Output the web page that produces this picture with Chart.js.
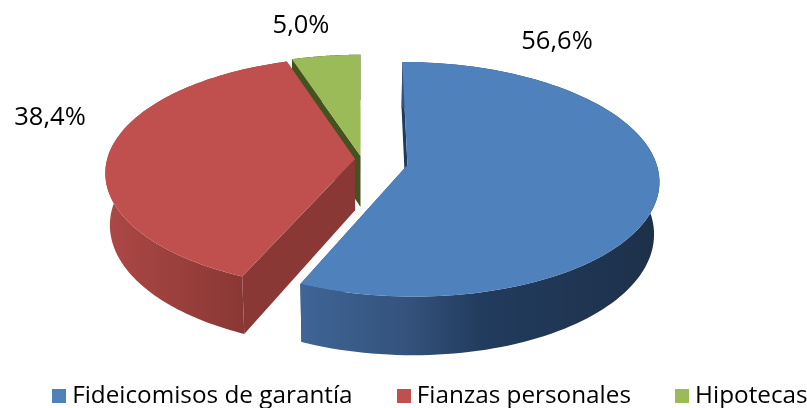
<!DOCTYPE html>
<html>
<head>
<meta charset="utf-8">
<script src="https://cdn.jsdelivr.net/npm/chart.js@4"></script>
<style>
  html, body { margin: 0; background: #fff; overflow: hidden; }
  /* wider than the window: the legend's wide item padding would wrap otherwise */
  #wrap { width: 900px; height: 408px; }
</style>
</head>
<body>
<div id="wrap"><canvas id="pieChart"></canvas></div>
<script>
const categories = ['Fideicomisos de garantía', 'Fianzas personales', 'Hipotecas'];
const shares = [56.6, 38.4, 5.0];
const colors = ['#4f81bd', '#c0504d', '#9bbb59'];
const cutColors = ['#1f3a5f', '#8a3835', '#43521f'];
const sideStops = [
    [[0, '#3f6596'], [0.3, '#34527c'], [0.5, '#223c5e'], [1, '#1d3049']],
    [[0, '#ad4845'], [1, '#8a3835']],
    [[0, '#43521f'], [1, '#43521f']]
];
// how far each slice is pulled out of the pie, in pixels
const explodeX = [47, -5, 0.5];
const explodeY = [9, 3, 0];
const labelSpots = [[557, 42], [50, 118], [301, 26]];

const FONT = '"Open Sans", sans-serif';
// perspective view of the pie disc
const view = { cx: 360, cy: 156, rx: 247, ry: 113.4, p: 0.12, depth: 51, shrink: 0.018 };

function project(u, v, z) {
    const s = 1 / (1 - view.p * v);
    return {
        x: view.cx + view.rx * u * s * (1 - view.shrink * z),
        y: view.cy + view.ry * v * s + view.depth * z * s
    };
}

function tracePath(ctx, pts) {
    ctx.beginPath();
    pts.forEach((p, i) => i ? ctx.lineTo(p.x, p.y) : ctx.moveTo(p.x, p.y));
    ctx.closePath();
}

const pie3d = {
    id: 'pie3d',
    beforeDatasetsDraw(chart) {
        const ctx = chart.ctx;
        const arcs = chart.getDatasetMeta(0).data;
        // back to front
        [2, 1, 0].forEach(i => {
            const arc = arcs[i];
            const ox = explodeX[i] / view.rx;
            const oy = explodeY[i] / view.ry;
            const rim = (z) => {
                const pts = [];
                for (let k = 0; k <= 120; k++) {
                    const a = arc.startAngle + (arc.endAngle - arc.startAngle) * k / 120;
                    pts.push(project(ox + Math.cos(a), oy + Math.sin(a), z));
                }
                return pts;
            };
            const top = rim(0), bottom = rim(1);
            const hubTop = project(ox, oy, 0), hubBottom = project(ox, oy, 1);

            ctx.fillStyle = cutColors[i];
            tracePath(ctx, [hubTop, top[0], bottom[0], hubBottom]);
            ctx.fill();
            tracePath(ctx, [hubTop, top[120], bottom[120], hubBottom]);
            ctx.fill();

            const xs = top.map(p => p.x);
            const grad = ctx.createLinearGradient(Math.min(...xs), 0, i === 1 ? 240 : Math.max(...xs), 0);
            sideStops[i].forEach(s => grad.addColorStop(s[0], s[1]));
            ctx.fillStyle = grad;
            tracePath(ctx, top.concat(bottom.slice().reverse()));
            ctx.fill();

            ctx.fillStyle = colors[i];
            tracePath(ctx, [hubTop].concat(top));
            ctx.fill();
        });

        ctx.fillStyle = '#000';
        ctx.font = '25.5px ' + FONT;
        ctx.textAlign = 'center';
        ctx.textBaseline = 'middle';
        shares.forEach((v, i) => {
            ctx.fillText(v.toFixed(1).replace('.', ',') + '%', labelSpots[i][0], labelSpots[i][1]);
        });
        return false;
    }
};

function swatch(color) {
    const c = document.createElement('canvas');
    c.width = 14;
    c.height = 14;
    const g = c.getContext('2d');
    g.fillStyle = color;
    g.fillRect(0, 0, 14, 14);
    return c;
}

new Chart(document.getElementById('pieChart'), {
    type: 'pie',
    data: {
        labels: categories,
        datasets: [{ data: shares, backgroundColor: colors, borderWidth: 0 }]
    },
    options: {
        responsive: true,
        maintainAspectRatio: false,
        animation: false,
        events: [],
        layout: { padding: { left: 8, right: 0, top: 0, bottom: -10 } },
        plugins: {
            tooltip: { enabled: false },
            legend: {
                position: 'bottom',
                align: 'start',
                labels: {
                    color: '#000',
                    font: { family: FONT, size: 24.3 },
                    usePointStyle: true,
                    boxWidth: 2,
                    padding: 50,
                    generateLabels(chart) {
                        return categories.map((name, i) => ({
                            text: name,
                            fillStyle: colors[i],
                            strokeStyle: colors[i],
                            lineWidth: 0,
                            pointStyle: swatch(colors[i]),
                            hidden: false,
                            index: i
                        }));
                    }
                }
            }
        }
    },
    plugins: [pie3d]
});
</script>
</body>
</html>
